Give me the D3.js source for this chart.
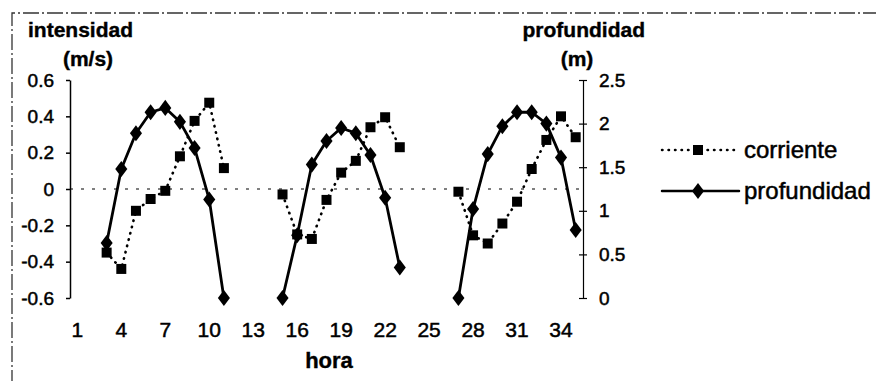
<!DOCTYPE html>
<html>
<head>
<meta charset="utf-8">
<script src="https://cdn.jsdelivr.net/npm/d3@7"></script>
<style>
  body { margin: 0; background: #fff; }
  svg { display: block; font-family: "Liberation Sans", Arial, sans-serif; }
</style>
</head>
<body>
<div id="chart"></div>
<script>
// hours on the category axis
let horas = [1, 2, 3, 4, 5, 6, 7, 8, 9, 10, 11, 12, 13, 14, 15, 16, 17, 18,
             19, 20, 21, 22, 23, 24, 25, 26, 27, 28, 29, 30, 31, 32, 33, 34, 35];
// current speed (m/s), left axis
let corriente = [null, null, -0.35, -0.44, -0.12, -0.055, -0.01, 0.18, 0.375, 0.475, 0.115,
                 null, null, null, -0.03, -0.25, -0.275, -0.06, 0.09, 0.155, 0.34, 0.395, 0.23,
                 null, null, null, -0.015, -0.255, -0.30, -0.19, -0.07, 0.11, 0.27, 0.40, 0.285];
// depth (m), right axis
let profundidad = [null, null, 0.63, 1.48, 1.89, 2.13, 2.18, 2.02, 1.72, 1.13, 0,
                   null, null, null, 0, 0.72, 1.53, 1.80, 1.95, 1.89, 1.64, 1.15, 0.35,
                   null, null, null, 0, 1.02, 1.65, 1.97, 2.13, 2.13, 2.0, 1.61, 0.78];
let xTicks = [1, 4, 7, 10, 13, 16, 19, 22, 25, 28, 31, 34];
let yLeftTicks = [-0.6, -0.4, -0.2, 0, 0.2, 0.4, 0.6];
let yRightTicks = [0, 0.5, 1, 1.5, 2, 2.5];

let W = 876, H = 381;
let pLeft = 70, pRight = 583, pTop = 80, pBottom = 298;

let svg = d3.select("#chart").append("svg").attr("width", W).attr("height", H);

// outer frame: only top and left edges show in the picture
svg.append("path")
  .attr("d", `M12,${H + 5}V13H${W + 5}`)
  .attr("fill", "none").attr("stroke", "#333").attr("stroke-width", 1.3)
  .attr("stroke-dasharray", "16,3,2,3");

let x = d3.scaleBand().domain(horas).range([pLeft, pRight]).padding(0);
let cx = h => x(h) + x.bandwidth() / 2;
let yL = d3.scaleLinear().domain([-0.6, 0.6]).range([pBottom, pTop]);
let yR = d3.scaleLinear().domain([0, 2.5]).range([pBottom, pTop]);

// zero line (category axis crosses at 0)
svg.append("line")
  .attr("x1", pLeft).attr("x2", pRight).attr("y1", yL(0)).attr("y2", yL(0))
  .attr("stroke", "#000").attr("stroke-width", 1.2).attr("stroke-dasharray", "3,8");

function styleText(sel, size) {
  sel.attr("font-size", size).attr("fill", "#000")
    .attr("stroke", "#000").attr("stroke-width", 0.5)
    .attr("font-family", "Liberation Sans, Arial, sans-serif");
}

// left axis
let gL = svg.append("g").attr("transform", `translate(${pLeft},0)`)
  .call(d3.axisLeft(yL).tickValues(yLeftTicks).tickSizeInner(4).tickSizeOuter(0)
    .tickPadding(12).tickFormat(v => v === 0 ? "0" : v.toFixed(1)));
gL.selectAll("path,line").attr("stroke", "#000").attr("stroke-width", 1.5);
styleText(gL.selectAll("text"), 19);

// right axis (ticks cross the line)
let gR = svg.append("g").attr("transform", `translate(${pRight},0)`)
  .call(d3.axisRight(yR).tickValues(yRightTicks).tickSizeInner(4).tickSizeOuter(0)
    .tickPadding(12).tickFormat(v => String(v)));
gR.selectAll(".tick line").attr("x1", -4);
gR.selectAll("path,line").attr("stroke", "#000").attr("stroke-width", 1.2);
styleText(gR.selectAll("text"), 19);

// category labels
let gX = svg.append("g").attr("transform", `translate(0,${pBottom})`)
  .call(d3.axisBottom(x).tickValues(xTicks).tickSize(0).tickPadding(24));
gX.select(".domain").remove();
styleText(gX.selectAll("text"), 21);

// axis titles
let titles = [
  { t: "intensidad", x: 28, y: 37, a: "start" },
  { t: "(m/s)", x: 88, y: 66, a: "middle" },
  { t: "profundidad", x: 645, y: 37, a: "end" },
  { t: "(m)", x: 577, y: 66, a: "middle" },
  { t: "hora", x: 329, y: 368, a: "middle" }
];
svg.selectAll("text.title").data(titles).enter().append("text")
  .attr("class", "title")
  .attr("x", d => d.x).attr("y", d => d.y).attr("text-anchor", d => d.a)
  .attr("font-size", d => d.t === "hora" ? 22 : 21).attr("font-weight", "bold")
  .attr("stroke", "#000").attr("stroke-width", 0.4)
  .text(d => d.t);

// series
let pts = (vals, sc) => horas.map((h, i) => ({ h: h, v: vals[i], sc: sc }));
let dC = pts(corriente, yL), dP = pts(profundidad, yR);

let line = d3.line().defined(d => d.v != null).x(d => cx(d.h)).y(d => d.sc(d.v));

svg.append("path").datum(dC).attr("d", line)
  .attr("fill", "none").attr("stroke", "#000").attr("stroke-width", 2.6)
  .attr("stroke-linecap", "round").attr("stroke-dasharray", "0.5,6");
svg.append("path").datum(dP).attr("d", line)
  .attr("fill", "none").attr("stroke", "#000").attr("stroke-width", 2.8)
  .attr("stroke-linejoin", "round");

let sq = d3.symbol().type(d3.symbolSquare).size(100);
let dia = d3.symbol().type(d3.symbolDiamond).size(75);

svg.selectAll("path.sq").data(dC.filter(d => d.v != null)).enter().append("path")
  .attr("class", "sq").attr("d", sq)
  .attr("transform", d => `translate(${cx(d.h)},${yL(d.v)})`).attr("fill", "#000");
svg.selectAll("path.dia").data(dP.filter(d => d.v != null)).enter().append("path")
  .attr("class", "dia").attr("d", dia)
  .attr("transform", d => `translate(${cx(d.h)},${yR(d.v)}) scale(1.3,1)`).attr("fill", "#000");

// legend
let legend = [
  { name: "corriente", y: 150, dash: "0.5,6", sym: sq, sx: 1 },
  { name: "profundidad", y: 191, dash: null, sym: dia, sx: 1.3 }
];
let lg = svg.selectAll("g.leg").data(legend).enter().append("g").attr("class", "leg")
  .attr("transform", d => `translate(0,${d.y})`);
lg.append("line").attr("x1", 662).attr("x2", 739).attr("y1", 0).attr("y2", 0)
  .attr("stroke", "#000").attr("stroke-width", 2.5).attr("stroke-linecap", "round")
  .attr("stroke-dasharray", d => d.dash);
lg.append("path").attr("d", d => d.sym())
  .attr("transform", d => `translate(698,0) scale(${d.sx},1)`).attr("fill", "#000");
styleText(lg.append("text").attr("x", 744).attr("y", 8).text(d => d.name), 24);
</script>
</body>
</html>
